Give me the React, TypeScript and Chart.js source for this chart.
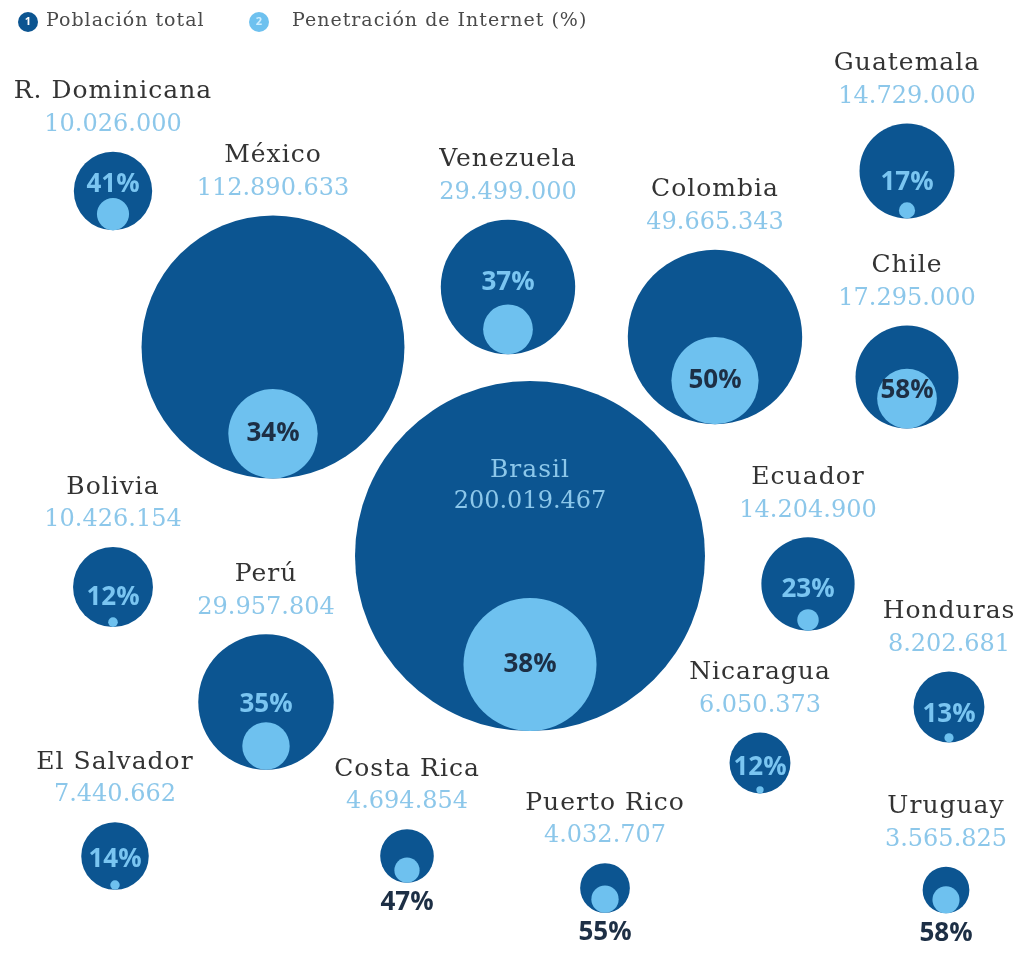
import { useEffect, useRef } from "react";
import { Chart, registerables } from "chart.js";

Chart.register(...registerables);

// ---- data ----
const countries = [
  "R. Dominicana", "México", "Venezuela", "Colombia", "Guatemala", "Chile",
  "Brasil", "Bolivia", "Perú", "Ecuador", "Honduras", "Nicaragua",
  "El Salvador", "Costa Rica", "Puerto Rico", "Uruguay",
];
const population = [
  10026000, 112890633, 29499000, 49665343, 14729000, 17295000,
  200019467, 10426154, 29957804, 14204900, 8202681, 6050373,
  7440662, 4694854, 4032707, 3565825,
];
const internetPct = [41, 34, 37, 50, 17, 58, 38, 12, 35, 23, 13, 12, 14, 47, 55, 58];
const legendLabels = ["Población total", "Penetración de Internet (%)"];

// ---- layout (bubble-pack positions, in px of the 1020x955 frame) ----
const layoutX = [113, 273, 508, 715, 907, 907, 530, 113, 266, 808, 949, 760, 115, 407, 605, 946];
const layoutY = [191, 347, 287, 337, 171, 377, 556, 587, 702, 584, 707, 763, 856, 856, 888, 890];
const pctLabelDy = [-6, 0, -4, 0, 12, -8, 0, 11, 3, 6, 8, 5, 4, 0, 0, 0];
const labelInside = countries.map((c) => c === "Brasil");

const W = 1020;
const H = 955;
const MAX_R = 175;

const DARK = "#0c5591";
const LIGHT = "#6ec1ef";
const NAME_COLOR = "#333333";
const POP_COLOR = "#8cc7ea";
const PCT_LIGHT = "#7ac5f1";
const PCT_DARK = "#1d2f45";

const maxPop = Math.max(...population);
const outerR = population.map((p) => MAX_R * Math.sqrt(p / maxPop));
const innerR = outerR.map((R, i) => (R * internetPct[i]) / 100);

function fmt(n: number): string {
  return String(n).replace(/\B(?=(\d{3})+(?!\d))/g, ".");
}

const labelPlugin = {
  id: "bubbleLabels",
  afterDatasetsDraw(chart: any) {
    const ctx: any = chart.ctx;
    const outerMeta = chart.getDatasetMeta(0);
    const innerMeta = chart.getDatasetMeta(1);
    ctx.save();
    ctx.textAlign = "center";
    ctx.textBaseline = "middle";
    countries.forEach((name, i) => {
      const el = outerMeta.data[i];
      const inEl = innerMeta.data[i];
      const R = el.options.radius;
      const r = inEl.options.radius;
      const x = el.x;
      const y = el.y;
      if (labelInside[i]) {
        ctx.letterSpacing = "1px";
        ctx.font = '25px "DejaVu Serif"';
        ctx.fillStyle = POP_COLOR;
        ctx.fillText(name, x, y - 86);
        ctx.letterSpacing = "0px";
        ctx.font = '24px "DejaVu Serif"';
        ctx.fillText(fmt(population[i]), x, y - 54);
      } else {
        ctx.letterSpacing = "1px";
        ctx.font = '25px "DejaVu Serif"';
        ctx.fillStyle = NAME_COLOR;
        ctx.fillText(name, x, y - R - 60);
        ctx.letterSpacing = "0px";
        ctx.font = '24px "DejaVu Serif"';
        ctx.fillStyle = POP_COLOR;
        ctx.fillText(fmt(population[i]), x, y - R - 27);
      }
      ctx.font = '700 26px "Open Sans"';
      const txt = internetPct[i] + "%";
      if (r >= 28) {
        ctx.fillStyle = PCT_DARK;
        ctx.fillText(txt, x, inEl.y + pctLabelDy[i]);
      } else if (R >= 30) {
        ctx.fillStyle = PCT_LIGHT;
        ctx.fillText(txt, x, y + pctLabelDy[i]);
      } else {
        ctx.fillStyle = PCT_DARK;
        ctx.fillText(txt, x, y + R + 20);
      }
    });

    // legend
    const items = [
      { cx: 28, color: DARK, num: "1", tx: 46 },
      { cx: 259, color: LIGHT, num: "2", tx: 292 },
    ];
    items.forEach((it, k) => {
      ctx.beginPath();
      ctx.arc(it.cx, 22, 10, 0, Math.PI * 2);
      ctx.fillStyle = it.color;
      ctx.fill();
      ctx.letterSpacing = "0px";
      ctx.fillStyle = k === 0 ? "#ffffff" : "#cfeeff";
      ctx.font = '700 11px "Open Sans"';
      ctx.textAlign = "center";
      ctx.fillText(it.num, it.cx, 22);
      ctx.textAlign = "left";
      ctx.fillStyle = "#4a4a4a";
      ctx.letterSpacing = "1px";
      ctx.font = '19px "DejaVu Serif"';
      ctx.fillText(legendLabels[k], it.tx, 21);
    });
    ctx.letterSpacing = "0px";
    ctx.restore();
  },
};

export default function App() {
  const ref = useRef<HTMLCanvasElement | null>(null);
  useEffect(() => {
    if (!ref.current) return;
    const chart = new Chart(ref.current, {
      type: "bubble",
      data: {
        datasets: [
          {
            label: legendLabels[0],
            data: countries.map((_, i) => ({ x: layoutX[i], y: layoutY[i], r: outerR[i] })),
            backgroundColor: DARK,
            borderWidth: 0,
            order: 2,
            clip: false,
          } as any,
          {
            label: legendLabels[1],
            data: countries.map((_, i) => ({
              x: layoutX[i],
              y: layoutY[i] + outerR[i] - innerR[i],
              r: innerR[i],
            })),
            backgroundColor: LIGHT,
            borderWidth: 0,
            order: 1,
            clip: false,
          } as any,
        ],
      },
      options: {
        responsive: false,
        maintainAspectRatio: false,
        animation: false,
        events: [],
        layout: { padding: 0, autoPadding: false },
        plugins: { legend: { display: false }, tooltip: { enabled: false } },
        scales: {
          x: { type: "linear", min: 0, max: W, display: false },
          y: { type: "linear", min: 0, max: H, reverse: true, display: false },
        },
      },
      plugins: [labelPlugin],
    });
    return () => chart.destroy();
  }, []);
  return (
    <div style={{ position: "absolute", left: 0, top: 0, width: W, height: H, background: "#fff" }}>
      <canvas ref={ref} width={W} height={H} style={{ display: "block" }} />
    </div>
  );
}
